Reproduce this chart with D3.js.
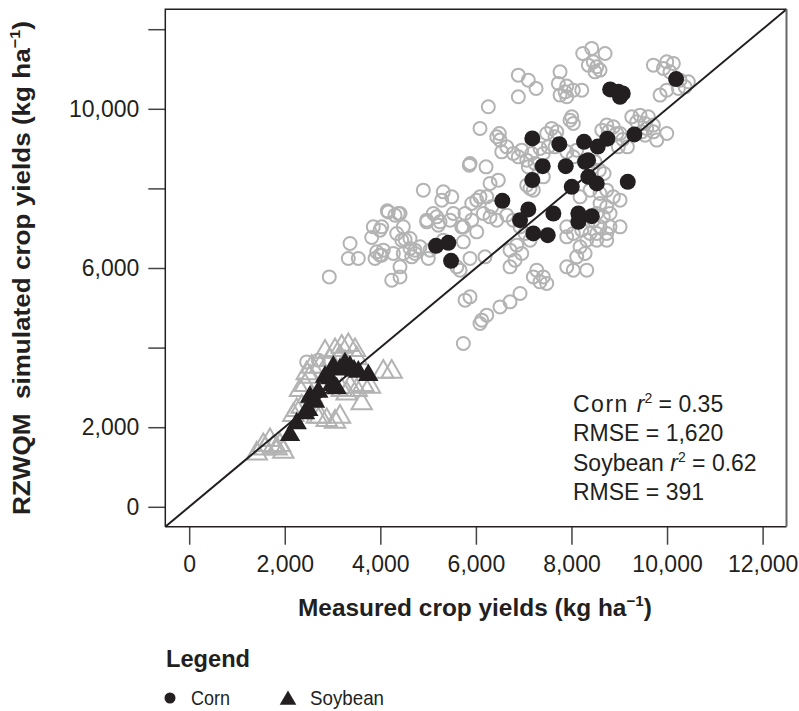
<!DOCTYPE html>
<html>
<head>
<meta charset="utf-8">
<script src="https://cdn.jsdelivr.net/npm/d3@7"></script>
<style>
  body { margin: 0; background: #fff; }
  text { font-family: "Liberation Sans", Arial, sans-serif; fill: #231f20; }
</style>
</head>
<body>
<div id="chart"></div>
<script>
// measured vs simulated yields, kg/ha  [measured, simulated]
var cornScenarios = [
  [8236,11391],[8424,11517],[8703,11391],[8458,11180],[8353,11097],[8529,11055],[8598,10972],[8493,10929],
  [9714,11097],[9994,11180],[10132,11140],[9923,11015],[10063,10929],[10272,10720],[10446,10678],[10377,10552],[10237,10512],[9994,10469],[9854,10344],
  [7761,10929],[6888,10846],[7097,10720],[6888,10301],[7259,10512],[7725,10638],[7901,10570],[7866,10426],[8039,10469],[7761,10344],[8215,10469],[7901,10301],
  [6260,10050],[6086,9507],[6490,9381],[6436,9296],[6505,9213],[8006,9798],[7970,9715],[8039,9632],[7587,9507],[7692,9421],[7482,9381],[7656,9296],
  [8738,9590],[8876,9547],[8634,9464],[8772,9421],[8948,9381],[9262,9798],[9435,9841],[9609,9798],[9366,9673],[9540,9632],[9714,9590],[9575,9507],
  [9471,9421],[9714,9421],[9994,9381],[9540,9338],[9785,9213],[9017,9381],[9073,9230],[9170,9044],[8981,9044],
  [6645,9044],[6541,8919],[6783,8878],[6959,8961],[6888,8793],[7064,8710],[7168,8878],[7342,9004],[7516,9044],[7411,8878],[7656,9044],[7901,8919],
  [8110,8961],[8039,8793],[7238,8627],[7097,8542],
  [5877,8627],[6212,8542],[6469,8207],[6296,8125],[7133,7999],[7202,7956],[8583,8459],[8682,8376],
  [4900,7956],[5318,7913],[5494,7788],[5285,7705],[6017,7705],[5913,7622],[6086,7788],[6227,7788],[6331,7536],[6155,7371],[5773,7371],[5528,7371],
  [5109,7371],[4971,7202],[5249,7160],[5459,7202],[5703,7034],[6017,6908],[5913,7202],
  [6296,7285],[6436,7202],[6645,7328],[6783,7202],[6924,7034],[7028,6868],[7133,6700],[6855,6574],[6714,6448],[6959,6365],[6819,6197],[6714,6029],
  [7273,5946],[7202,5777],[7342,5652],[7482,5611],[7411,5777],[6924,5360],[6714,5149],[6505,5023],[6227,4815],[6122,4689],[6086,4606],[5773,5192],
  [5877,5275],[5737,4104],
  [8180,7788],[8389,7956],[8598,7873],[8738,7956],[8876,7788],[9017,7705],[8598,7622],[8738,7536],[8529,7371],[8667,7285],[8807,7371],[8458,7202],
  [8598,7034],[8738,6868],[8389,6868],[8215,6951],[8039,6868],[7901,6783],[7901,7034],[8807,7034],[9017,7034],[8320,6700],[8529,6700],[8180,6531],
  [8284,6365],[8110,6280],[7901,6029],[8039,5946],[8320,5946],[8529,6868],[8738,6700],
  [7168,8207],[7411,8290],[7064,8082],[8424,8502],[8493,8667],
  [4412,7371],[4481,7034],[4448,6700],[4481,6365],[4412,6029],[4621,6491],[4726,6365],[4831,6531],[5040,6448],[5318,6700],[5599,6029],[5668,5946],
  [5877,6240],[6191,6280],
  [4146,7436],[4307,7328],[3853,7034],[3993,6951],[3820,6767],[3366,6617],[3330,6240],[3539,6240],[3993,6323],[4062,6448],[2932,5777],[4272,6365],
  [4238,5694],[4412,5777],[4343,6868],
  [5862,8584],[4167,7410],[4376,7371],[5180,7285],[4971,7160],[5214,7076],[4029,7034],[4517,6717],[4621,6742],[5737,7034],[5737,6657],[4726,6448],
  [4657,6280],[3924,6406],[4029,6323],[3889,6240],[5004,6240],
  [2459,3641],[2702,3684]
];

var cornObserved = [
  [10189,10746],[8810,10487],[8981,10427],[9073,10386],[9016,10301],[9316,9356],[7181,9255],[7746,9112],[8263,9170],[8550,9050],[8750,9250],
  [7398,8559],[7880,8559],[8284,8667],[8347,8710],[7181,8208],[8006,8039],[8353,8290],[8529,8124],[9178,8165],[6553,7687],[7097,7471],
  [6924,7202],[7621,7370],[8144,7370],[8144,7160],[8424,7303],[7202,6868],[7503,6825],[5165,6556],[5423,6632],[5480,6180]
];

var soyScenarios = [
  [3192,4018],[3330,4061],[3470,3935],[3052,3935],[2842,3893],[3156,3767],[3506,3727],[2564,3516],[2459,3350],[2424,3056],[2319,2930],
  [2564,2762],[2355,2511],[2250,2428],[2179,2302],[2669,2259],[2878,2176],[3156,2259],[3610,2596],[4062,3390],[4238,3390],[3296,2847],
  [3365,3013],[3506,2930],[3192,2930],[1691,1674],[1551,1548],[1760,1505],[1587,1465],[1831,1465],[1900,1548],[1413,1339],[1970,1380],
  [2738,3516],[2528,3264],[3644,3056],[3784,3013],[2738,2259],[3052,2134],[2947,3684],[3261,3634]
];

var soyObserved = [
  [3016,3516],[3156,3450],[3365,3516],[3539,3390],[3749,3307],[2947,3224],[2842,3264],[3087,2973],[2702,2887],[2528,2762],[2633,2636],
  [2493,2428],[2424,2345],[2250,2094],[2110,1799],[3260,3600],[3450,3420],[2980,3050]
];

var axisTicks = [0, 2000, 4000, 6000, 8000, 10000, 12000];
var yLabelled = [0, 2000, 6000, 10000];
var statLines = [
  ["Corn ", "r", "2", " = 0.35"],
  ["RMSE = 1,620"],
  ["Soybean ", "r", "2", " = 0.62"],
  ["RMSE = 391"]
];

var W = 799, H = 711;
var ink = "#231f20", grey = "#b3b3b3";

var svg = d3.select("#chart").append("svg")
    .attr("width", W).attr("height", H);
svg.append("rect").attr("width", W).attr("height", H).attr("fill", "#fff");

var x = d3.scaleLinear().domain([-500, 12500]).range([165.3, 786.5]);
var y = d3.scaleLinear().domain([-500, 12500]).range([526.7, 9.3]);
var fmt = d3.format(",");

// axes
var xAxis = d3.axisBottom(x).tickValues(axisTicks).tickSize(18).tickPadding(11).tickFormat(fmt);
var yAxis = d3.axisLeft(y).tickValues(axisTicks).tickSize(17).tickPadding(9)
    .tickFormat(function(d) { return yLabelled.indexOf(d) >= 0 ? fmt(d) : ""; });

svg.append("g").attr("transform", "translate(0," + y(-500) + ")").call(xAxis);
svg.append("g").attr("transform", "translate(" + x(-500) + ",0)").call(yAxis);
svg.selectAll(".domain").remove();
svg.selectAll(".tick line").attr("stroke", "#444").attr("stroke-width", 1.5);
svg.selectAll(".tick text").attr("font-size", 23).attr("fill", ink)
    .style("font-family", "'Liberation Sans', Arial, sans-serif");

// points
var tri = d3.symbol().type(d3.symbolTriangle).size(180);

svg.append("g").selectAll("circle").data(cornScenarios).enter().append("circle")
    .attr("cx", function(d) { return x(d[0]); })
    .attr("cy", function(d) { return y(d[1]); })
    .attr("r", 6.5).attr("fill", "none").attr("stroke", grey).attr("stroke-width", 2);

svg.append("g").selectAll("path").data(soyScenarios).enter().append("path")
    .attr("d", tri)
    .attr("transform", function(d) { return "translate(" + x(d[0]) + "," + y(d[1]) + ")"; })
    .attr("fill", "none").attr("stroke", grey).attr("stroke-width", 2);

// 1:1 line
svg.append("line")
    .attr("x1", x(-500)).attr("y1", y(-500)).attr("x2", x(12500)).attr("y2", y(12500))
    .attr("stroke", ink).attr("stroke-width", 2);

svg.append("g").selectAll("circle").data(cornObserved).enter().append("circle")
    .attr("cx", function(d) { return x(d[0]); })
    .attr("cy", function(d) { return y(d[1]); })
    .attr("r", 8).attr("fill", ink);

svg.append("g").selectAll("path").data(soyObserved).enter().append("path")
    .attr("d", tri)
    .attr("transform", function(d) { return "translate(" + x(d[0]) + "," + y(d[1]) + ")"; })
    .attr("fill", ink);

// frame
var frame = svg.append("g").attr("fill", "none");
frame.append("path").attr("d", "M" + x(-500) + "," + y(-500) + "V" + y(12500) + "H" + x(12500))
    .attr("stroke", ink).attr("stroke-width", 1.5);
frame.append("line").attr("x1", x(-500)).attr("x2", x(12500)).attr("y1", y(-500)).attr("y2", y(-500))
    .attr("stroke", ink).attr("stroke-width", 1.5);
frame.append("line").attr("x1", x(12500)).attr("x2", x(12500)).attr("y1", y(12500)).attr("y2", y(-500))
    .attr("stroke", "#666").attr("stroke-width", 2);

// stats
var stats = svg.append("g");
statLines.forEach(function(parts, i) {
  var t = stats.append("text").attr("x", 573).attr("y", 412 + i * 29.3).attr("font-size", 23);
  if (parts.length == 1) { t.text(parts[0]); return; }
  t.append("tspan").attr("letter-spacing", i == 0 ? 1.5 : 0).text(parts[0]);
  t.append("tspan").attr("font-style", "italic").text(parts[1]);
  t.append("tspan").attr("font-size", 14).attr("dy", -9).text(parts[2]);
  t.append("tspan").attr("dy", 9).text(parts[3]);
});

// axis titles
var xt = svg.append("text").attr("x", 475).attr("y", 616).attr("text-anchor", "middle")
    .attr("font-size", 24).attr("font-weight", "bold")
    .attr("textLength", 354).attr("lengthAdjust", "spacingAndGlyphs");
xt.append("tspan").text("Measured crop yields (kg ha");
xt.append("tspan").attr("font-size", 15).attr("dy", -10).text("\u22121");
xt.append("tspan").attr("dy", 10).text(")");

var yt = svg.append("text").attr("transform", "translate(30,268) rotate(-90)")
    .attr("text-anchor", "middle").attr("font-size", 24).attr("font-weight", "bold")
    .attr("textLength", 494).attr("lengthAdjust", "spacingAndGlyphs")
    .attr("xml:space", "preserve").style("white-space", "pre");
yt.append("tspan").text("RZWQM  simulated crop yields (kg ha");
yt.append("tspan").attr("font-size", 15).attr("dy", -10).text("\u22121");
yt.append("tspan").attr("dy", 10).text(")");

// legend
var lg = svg.append("g");
lg.append("text").attr("x", 166).attr("y", 667).attr("font-size", 23).attr("font-weight", "bold")
    .attr("textLength", 84).attr("lengthAdjust", "spacingAndGlyphs").text("Legend");
lg.append("circle").attr("cx", 170).attr("cy", 698).attr("r", 5.5).attr("fill", ink);
lg.append("text").attr("x", 191).attr("y", 705).attr("font-size", 21)
    .attr("textLength", 39).attr("lengthAdjust", "spacingAndGlyphs").text("Corn");
lg.append("path").attr("d", d3.symbol().type(d3.symbolTriangle).size(120))
    .attr("transform", "translate(288,700)").attr("fill", ink);
lg.append("text").attr("x", 310).attr("y", 705).attr("font-size", 21)
    .attr("textLength", 74).attr("lengthAdjust", "spacingAndGlyphs").text("Soybean");
</script>
</body>
</html>
